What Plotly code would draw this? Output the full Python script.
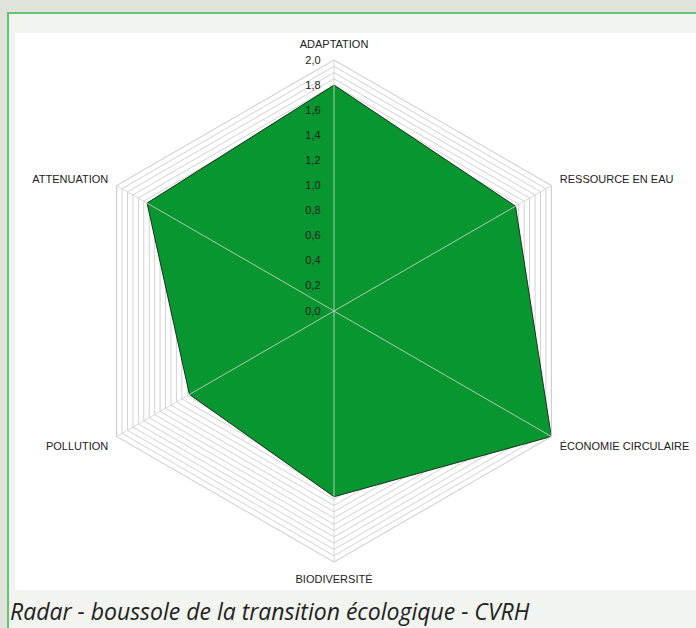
import plotly.graph_objects as go

categories = ["ADAPTATION", "RESSOURCE EN EAU", "ÉCONOMIE CIRCULAIRE",
              "BIODIVERSITÉ", "POLLUTION", "ATTENUATION"]
values = [1.8, 1.67, 2.0, 1.48, 1.33, 1.72]
r_max = 2.0
grid_step = 0.05
label_step = 0.2

W, H = 696, 628

fig = go.Figure()

# filled polygon
fig.add_trace(go.Scatterpolar(
    r=values + [values[0]], theta=categories + [categories[0]],
    mode="lines", fill="toself", fillcolor="rgb(8,150,48)",
    line=dict(color="#1b3320", width=1), hoverinfo="skip", showlegend=False))

# spokes drawn over the fill
for c in categories:
    fig.add_trace(go.Scatterpolar(
        r=[0, r_max], theta=[c, c], mode="lines",
        line=dict(color="rgba(205,212,205,0.85)", width=1),
        hoverinfo="skip", showlegend=False))

n = int(round(r_max / grid_step))
tickvals = [round(i * grid_step, 2) for i in range(n + 1)]
ticktext = []
for v in tickvals:
    k = v / label_step
    ticktext.append(f"{v:.1f}".replace(".", ",") if abs(k - round(k)) < 1e-6 else "")

cx, cy, R = 334, 311, 251
fig.update_layout(
    width=W, height=H,
    margin=dict(l=0, r=0, t=0, b=0),
    paper_bgcolor="#dfe3da",
    showlegend=False,
    polar=dict(
        domain=dict(x=[(cx - R) / W, (cx + R) / W],
                    y=[1 - (cy + R) / H, 1 - (cy - R) / H]),
        bgcolor="rgba(0,0,0,0)",
        gridshape="linear",
        radialaxis=dict(
            range=[0, r_max], angle=90, side="counterclockwise",
            tickvals=tickvals, ticktext=ticktext, tickangle=90,
            showline=False, ticks="outside", ticklen=9, tickcolor="rgba(0,0,0,0)",
            gridcolor="#d2d2d2", gridwidth=1,
            tickfont=dict(family="Liberation Sans, Arial", size=11, color="#222"),
            layer="above traces"),
        angularaxis=dict(
            direction="clockwise", rotation=90,
            categoryorder="array", categoryarray=categories,
            showgrid=False, showline=True, linecolor="#c8c8c8", linewidth=1,
            ticks="outside", ticklen=7, tickcolor="rgba(0,0,0,0)",
            tickfont=dict(family="Liberation Sans, Arial", size=11, color="#222")),
    ),
    shapes=[
        dict(type="rect", xref="paper", yref="paper", layer="below",
             x0=8 / W, x1=1.01, y0=-0.01, y1=1 - 13 / H,
             fillcolor="#f2f4f0", line=dict(color="#62c474", width=2)),
        dict(type="rect", xref="paper", yref="paper", layer="below",
             x0=15 / W, x1=1.01, y0=1 - 590 / H, y1=1 - 33 / H,
             fillcolor="#ffffff", line=dict(width=0)),
    ],
    annotations=[
        dict(text="<i>Radar - boussole de la transition écologique - CVRH</i>",
             xref="paper", yref="paper", x=8 / W, y=1 - 611 / H,
             xanchor="left", yanchor="middle", showarrow=False,
             font=dict(family="Open Sans", size=23, color="#222")),
    ],
)

fig.write_html("out.html", config={"displayModeBar": False},
               post_script="document.body.style.margin='0';document.body.style.overflow='hidden';")
